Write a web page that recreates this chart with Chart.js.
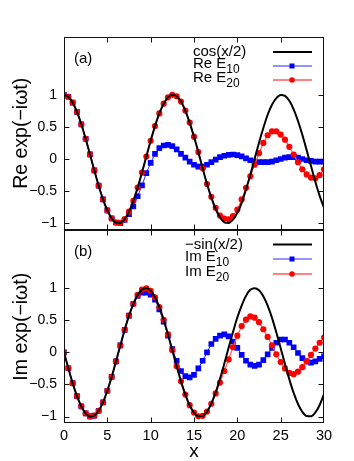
<!DOCTYPE html>
<html>
<head>
<meta charset="utf-8">
<script src="https://cdn.jsdelivr.net/npm/chart.js@4.4.1/dist/chart.umd.min.js"></script>
<style>
body { margin: 0; background: #fff; width: 354px; height: 461px; position: relative; overflow: hidden; }
canvas { position: absolute; left: 0; }
#reChart { top: 0; }
#imChart { top: 215px; }
</style>
</head>
<body>
<canvas id="imChart" width="354" height="246"></canvas>
<canvas id="reChart" width="354" height="245"></canvas>
<script>
// grille en x (pas de 0.5)
const xVals = [0,0.5,1,1.5,2,2.5,3,3.5,4,4.5,5,5.5,6,6.5,7,7.5,8,8.5,9,9.5,
  10,10.5,11,11.5,12,12.5,13,13.5,14,14.5,15,15.5,16,16.5,17,17.5,18,18.5,19,19.5,
  20,20.5,21,21.5,22,22.5,23,23.5,24,24.5,25,25.5,26,26.5,27,27.5,28,28.5,29,29.5,30];
const xMarks = [5, 10, 15, 20, 25];
const xTicks = [0, 5, 10, 15, 20, 25, 30];
const yTicks = [-1, -0.5, 0, 0.5, 1];

// panneau (a) : parties réelles
const cosHalf = [1,0.969,0.878,0.732,0.540,0.315,0.071,-0.178,-0.416,-0.628,
  -0.801,-0.924,-0.990,-0.994,-0.936,-0.821,-0.654,-0.446,-0.211,0.038,
  0.284,0.512,0.709,0.861,0.960,0.999,0.977,0.894,0.754,0.567,
  0.347,0.108,-0.146,-0.390,-0.602,-0.779,-0.911,-0.986,-0.997,-0.944,
  -0.839,-0.683,-0.476,-0.245,0.004,0.253,0.483,0.689,0.844,0.948,
  0.998,0.983,0.907,0.774,0.592,0.377,0.137,-0.111,-0.354,-0.575,-0.760];
const reE10 = [1,0.969,0.878,0.732,0.540,0.315,0.071,-0.178,-0.416,-0.628,-0.801,-0.924,-0.990,
  -1.0,-0.95,-0.86,-0.74,-0.58,-0.41,-0.22,-0.06,0.08,0.17,
  0.21,0.22,0.20,0.15,0.08,0.02,-0.04,-0.09,-0.12,-0.12,
  -0.09,-0.05,-0.01,0.03,0.05,0.065,0.07,0.06,0.04,0.01,
  -0.02,-0.04,-0.05,-0.05,-0.05,-0.04,-0.02,0.0,0.02,0.03,
  0.03,0.02,0.0,-0.02,-0.03,-0.04,-0.04,-0.04];
const reE20 = [1,0.969,0.878,0.732,0.540,0.315,0.071,-0.178,-0.416,-0.628,
  -0.801,-0.924,-0.990,-0.994,-0.936,-0.821,-0.654,-0.446,-0.211,0.038,
  0.284,0.512,0.709,0.861,0.960,0.999,0.977,0.894,0.754,0.567,0.347,0.108,-0.146,-0.390,
  -0.59,-0.76,-0.88,-0.93,-0.94,-0.89,-0.79,-0.63,-0.45,-0.27,
  -0.09,0.09,0.25,0.37,0.43,0.43,0.38,0.30,0.19,0.07,
  -0.05,-0.16,-0.24,-0.29,-0.30,-0.25,-0.16];

// panneau (b) : parties imaginaires
const negSinHalf = [0,-0.247,-0.479,-0.682,-0.841,-0.949,-0.997,-0.984,-0.909,-0.778,
  -0.598,-0.382,-0.141,0.108,0.351,0.572,0.757,0.895,0.978,0.999,
  0.959,0.859,0.706,0.508,0.279,0.033,-0.215,-0.451,-0.657,-0.823,
  -0.938,-0.995,-0.989,-0.922,-0.798,-0.624,-0.412,-0.174,0.075,0.318,
  0.544,0.730,0.880,0.974,1.000,0.968,0.876,0.728,0.537,0.310,
  0.066,-0.183,-0.420,-0.632,-0.804,-0.926,-0.991,-0.994,-0.935,-0.819,-0.650];
const imE10 = [0,-0.247,-0.479,-0.682,-0.841,-0.949,-0.997,-0.984,-0.909,-0.778,
  -0.598,-0.382,-0.141,0.108,0.351,0.572,0.757,
  0.88,0.93,0.93,0.90,0.82,0.67,0.48,0.26,0.05,-0.13,
  -0.29,-0.37,-0.39,-0.35,-0.25,-0.13,0.0,0.13,0.21,0.26,
  0.28,0.25,0.17,0.07,-0.04,-0.13,-0.19,-0.21,-0.19,-0.12,
  -0.03,0.07,0.15,0.20,0.20,0.15,0.08,-0.01,-0.09,-0.14,
  -0.16,-0.14,-0.10,-0.06];
const imE20 = [0,-0.247,-0.479,-0.682,-0.841,-0.949,-0.997,-0.984,-0.909,-0.778,
  -0.598,-0.382,-0.141,0.108,0.351,0.572,0.757,0.895,0.978,0.999,
  0.959,0.859,0.706,0.508,0.279,0.033,-0.215,-0.451,-0.657,-0.823,-0.938,-0.995,-0.989,-0.922,
  -0.80,-0.64,-0.47,-0.29,-0.11,0.08,0.26,0.41,0.51,0.56,
  0.54,0.47,0.36,0.24,0.11,-0.03,-0.15,-0.25,-0.32,-0.34,
  -0.30,-0.23,-0.14,-0.04,0.06,0.15,0.23];

const FONT = "'Liberation Sans', Arial, Helvetica, sans-serif";
const RED_LINE = '#ff5a5a';
const BLUE_LINE = '#2a2aff';

function pts(ys) {
    return xVals.map((x, i) => ({ x: x, y: ys[i] }));
}

function fmt(v) {
    if (v === 0) return '0';
    return (v < 0 ? '\u2212' : '') + Math.abs(v);
}

// cadre, graduations intérieures, étiquette du panneau et légende
const panelDeco = {
    id: 'panelDeco',
    afterDatasetsDraw(chart, args, o) {
        const ctx = chart.ctx, a = chart.chartArea;
        const xs = chart.scales.x, ys = chart.scales.y;
        const L = Math.round(a.left) + 0.5, R = Math.round(a.right) - 0.5;
        const T = Math.round(a.top) + 0.5, B = Math.round(a.bottom) - 0.5;
        ctx.save();
        ctx.strokeStyle = '#111';
        ctx.lineWidth = 1;
        ctx.strokeRect(L, T, R - L, B - T);
        ctx.beginPath();
        xMarks.forEach(v => {
            const p = Math.round(xs.getPixelForValue(v)) + 0.5;
            ctx.moveTo(p, B); ctx.lineTo(p, B - 5);
            ctx.moveTo(p, T); ctx.lineTo(p, T + 5);
        });
        yTicks.forEach(v => {
            const p = Math.round(ys.getPixelForValue(v)) + 0.5;
            ctx.moveTo(L, p); ctx.lineTo(L + 5, p);
            ctx.moveTo(R, p); ctx.lineTo(R - 5, p);
        });
        ctx.stroke();

        ctx.fillStyle = '#000';
        ctx.textAlign = 'left';
        ctx.textBaseline = 'middle';
        ctx.font = '15px ' + FONT;
        ctx.fillText(o.tag, o.tagX, o.tagY);

        o.rows.forEach(r => {
            ctx.fillStyle = '#000';
            ctx.font = '15px ' + FONT;
            if (r.sub) {
                ctx.fillText(r.main, o.textX, r.y - 2);
                const w = ctx.measureText(r.main).width;
                ctx.font = '12px ' + FONT;
                ctx.fillText(r.sub, o.textX + w, r.y + 4);
            } else {
                ctx.fillText(r.main, o.textX, r.y);
            }
            ctx.beginPath();
            ctx.strokeStyle = r.color;
            ctx.lineWidth = r.width;
            ctx.moveTo(273, r.y);
            ctx.lineTo(312, r.y);
            ctx.stroke();
            if (r.mark === 'rect') {
                ctx.fillStyle = '#0000ff';
                ctx.fillRect(289.5, r.y - 2.5, 5, 5);
            } else if (r.mark === 'circle') {
                ctx.fillStyle = '#ff0000';
                ctx.beginPath();
                ctx.arc(292, r.y, 2.8, 0, Math.PI * 2);
                ctx.fill();
            }
        });
        ctx.restore();
    }
};

function makeDatasets(exact, e10, e20) {
    return [
        {
            data: pts(exact),
            borderColor: '#000',
            borderWidth: 2,
            pointRadius: 0,
            cubicInterpolationMode: 'monotone'
        },
        {
            data: pts(e20),
            borderColor: RED_LINE,
            borderWidth: 1.2,
            pointRadius: 3.1,
            pointStyle: 'circle',
            pointBackgroundColor: '#ff0000',
            pointBorderWidth: 0
        },
        {
            data: pts(e10),
            borderColor: BLUE_LINE,
            borderWidth: 1,
            pointRadius: 4,
            pointStyle: 'rect',
            pointBackgroundColor: '#0000ff',
            pointBorderWidth: 0
        }
    ];
}

function yScale(title) {
    return {
        type: 'linear',
        min: -1.1,
        max: 1.9,
        afterBuildTicks: s => { s.ticks = yTicks.map(v => ({ value: v })); },
        afterFit: s => { s.width = 64; },
        grid: { display: false, drawTicks: false },
        border: { display: false },
        ticks: { padding: 7, color: '#000', font: { family: FONT, size: 14 }, callback: fmt },
        title: {
            display: true,
            text: title,
            color: '#000',
            font: { family: FONT, size: 19.5 },
            padding: { top: 10, bottom: 0 }
        }
    };
}

Chart.defaults.font.family = FONT;

new Chart(document.getElementById('reChart').getContext('2d'), {
    type: 'line',
    data: { datasets: makeDatasets(cosHalf, reE10, reE20) },
    options: {
        responsive: false,
        animation: false,
        events: [],
        layout: { padding: { top: 37, right: 30, bottom: 10, left: 0 } },
        plugins: {
            legend: { display: false },
            tooltip: { enabled: false },
            panelDeco: {
                tag: '(a)', tagX: 74, tagY: 59, textX: 193,
                rows: [
                    { main: 'cos(x/2)', sub: '', y: 52, color: '#000', width: 2, mark: '' },
                    { main: 'Re E', sub: '10', y: 66, color: BLUE_LINE, width: 1, mark: 'rect' },
                    { main: 'Re E', sub: '20', y: 80, color: RED_LINE, width: 1.5, mark: 'circle' }
                ]
            }
        },
        scales: {
            x: { type: 'linear', min: 0, max: 30, display: false },
            y: yScale('Re exp(\u2212i\u03c9t)')
        }
    },
    plugins: [panelDeco]
});

new Chart(document.getElementById('imChart').getContext('2d'), {
    type: 'line',
    data: { datasets: makeDatasets(negSinHalf, imE10, imE20) },
    options: {
        responsive: false,
        animation: false,
        events: [],
        layout: { padding: { top: 10, right: 30, bottom: 0, left: 0 } },
        plugins: {
            legend: { display: false },
            tooltip: { enabled: false },
            panelDeco: {
                tag: '(b)', tagX: 74, tagY: 37, textX: 185,
                rows: [
                    { main: '\u2212sin(x/2)', sub: '', y: 29.5, color: '#000', width: 2, mark: '' },
                    { main: 'Im E', sub: '10', y: 44, color: BLUE_LINE, width: 1, mark: 'rect' },
                    { main: 'Im E', sub: '20', y: 59, color: RED_LINE, width: 1.5, mark: 'circle' }
                ]
            }
        },
        scales: {
            x: {
                type: 'linear',
                min: 0,
                max: 30,
                afterBuildTicks: s => { s.ticks = xTicks.map(v => ({ value: v })); },
                afterFit: s => { s.height = 38; },
                grid: { display: false, drawTicks: false },
                border: { display: false },
                ticks: { padding: 4, color: '#000', font: { family: FONT, size: 14.5 }, maxRotation: 0 },
                title: {
                    display: true,
                    text: 'x',
                    color: '#000',
                    font: { family: FONT, size: 19, lineHeight: 1.0 },
                    padding: { top: 0, bottom: 0 }
                }
            },
            y: yScale('Im exp(\u2212i\u03c9t)')
        }
    },
    plugins: [panelDeco]
});
</script>
</body>
</html>
